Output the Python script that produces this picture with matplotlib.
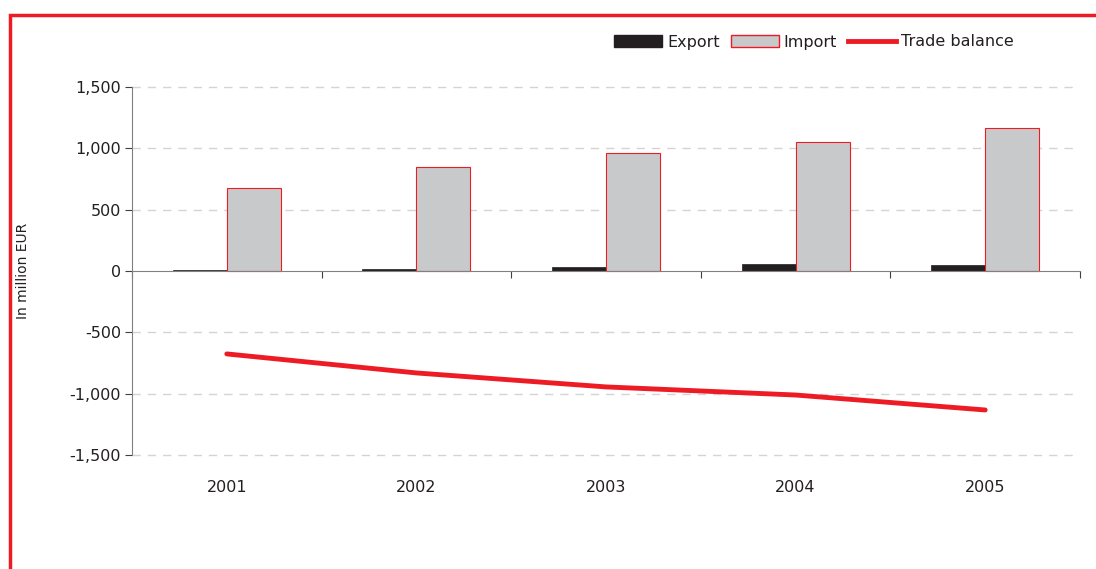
import matplotlib
matplotlib.use("Agg")
import matplotlib.pyplot as plt
from matplotlib.patches import Rectangle, Patch
from matplotlib.lines import Line2D
import matplotlib.transforms as mtransforms
import numpy as np

years = ["2001", "2002", "2003", "2004", "2005"]
export = [8, 20, 32, 55, 48]
imports = [680, 848, 962, 1051, 1165]
trade_balance = [-676, -831, -945, -1011, -1133]
yticks = [-1500, -1000, -500, 0, 500, 1000, 1500]
ytick_labels = ["-1,500", "-1,000", "-500", "0", "500", "1,000", "1,500"]

plt.rcParams['font.family'] = ['DejaVu Sans']
W, H = 1096, 569
fig = plt.figure(figsize=(W / 100, H / 100), dpi=100)
ax = fig.add_axes([132 / W, 1 - 455 / H, (1080 - 132) / W, (455 - 87) / H])

RED = "#ed1c24"
TXT = "#231f20"
x = np.arange(len(years))
bw = 0.285
ax.bar(x - bw / 2, export, width=bw, color="#231f20", edgecolor="#231f20", linewidth=0.5, zorder=3)
ax.bar(x + bw / 2, imports, width=bw, color="#c8c9cb", edgecolor=RED, linewidth=0.8, zorder=3)
ax.plot(x, trade_balance, color=RED, linewidth=3.5, solid_capstyle="round", zorder=4)

ax.set_xlim(-0.5, len(years) - 0.5)
ax.set_ylim(-1500, 1500)
ax.set_yticks(yticks)
ax.set_yticklabels(ytick_labels, fontsize=11.5, color=TXT)
for y in yticks:
    if y != 0:
        ax.axhline(y, xmax=0.995, color="#d4d4d4", linestyle=(0, (6, 5)), linewidth=1,
                   zorder=1, clip_on=False)

for s in ["top", "right"]:
    ax.spines[s].set_visible(False)
ax.spines["left"].set_color("#808080")
ax.spines["bottom"].set_position(("data", 0))
ax.spines["bottom"].set_color("#808080")
ax.spines["bottom"].set_zorder(5)
ax.set_xticks(np.arange(len(years) + 1) - 0.5)
ax.set_xticklabels([])
ax.tick_params(axis="x", direction="out", length=5, color="#404040")
ax.tick_params(axis="y", direction="out", length=5, color="#404040", pad=3)

trans = mtransforms.blended_transform_factory(ax.transData, ax.transAxes)
for xi, lab in zip(x, years):
    ax.text(xi, -32 / 368, lab, transform=trans, ha="center", va="center",
            fontsize=11.5, color=TXT)

ax.set_ylabel("In million EUR", fontsize=10, color=TXT)
ax.yaxis.set_label_coords(-(132 - 30) / (1080 - 132), 0.5)

handles = [Patch(facecolor="#231f20", edgecolor="#231f20"),
           Patch(facecolor="#c8c9cb", edgecolor=RED),
           Line2D([0], [0], color=RED, linewidth=3.5)]
fig.legend(handles, ["Export", "Import", "Trade balance"], loc="center right",
           bbox_to_anchor=(1028 / W, 1 - 42 / H), ncol=3, frameon=False,
           fontsize=11.5, handlelength=3.0, handletextpad=0.3, columnspacing=0.7,
           labelcolor=TXT)

frame = Rectangle((10 / W, -0.05), 1.2, 1 - 15 / H + 0.05, transform=fig.transFigure,
                  fill=False, edgecolor=RED, linewidth=2.5, zorder=10)
fig.patches.append(frame)

fig.savefig("out.png", dpi=100)
